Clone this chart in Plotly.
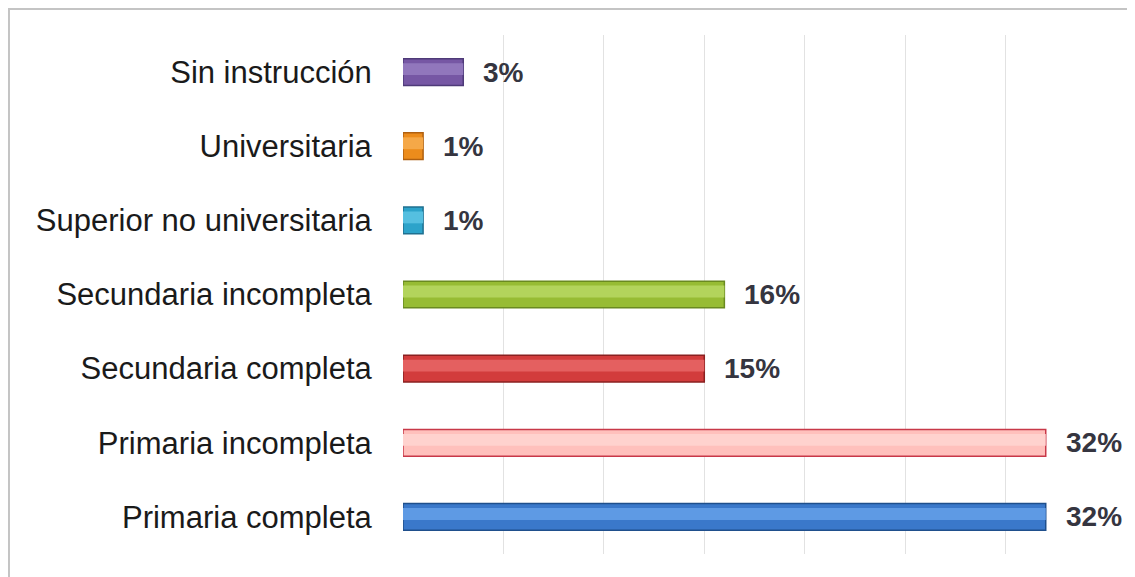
import plotly.graph_objects as go

categories = ["Primaria completa", "Primaria incompleta", "Secundaria completa",
              "Secundaria incompleta", "Superior no universitaria", "Universitaria",
              "Sin instrucción"]
values = [32, 32, 15, 16, 1, 1, 3]
labels = ["32%", "32%", "15%", "16%", "1%", "1%", "3%"]

fill_colors = ["#3A78CA", "#FFC0BC", "#D23C3C", "#97BC34", "#2CA3CA", "#EC8C1C", "#7657A4"]
line_colors = ["#1F4F8C", "#C83848", "#8A2020", "#6A8A20", "#1F7090", "#B06010", "#4E3A78"]
hi_colors = ["#5E9AE4", "#FFD2CE", "#E46060", "#B3D45C", "#55BFE0", "#F5A848", "#9177BC"]

fig = go.Figure()
fig.add_trace(go.Bar(
    y=categories, x=values, orientation="h", width=0.36,
    marker=dict(color=fill_colors, line=dict(color=line_colors, width=1.5)),
    hoverinfo="skip", showlegend=False,
))
fig.add_trace(go.Bar(
    y=categories, x=values, orientation="h", width=0.16, offset=-0.04,
    marker=dict(color=hi_colors, line=dict(width=0)),
    hoverinfo="skip", showlegend=False,
))

for c, v, t in zip(categories, values, labels):
    fig.add_annotation(x=v, y=c, text="<b>%s</b>" % t, showarrow=False,
                       xanchor="left", yanchor="middle", xshift=18,
                       font=dict(family="Arial, Liberation Sans", size=28, color="#353540"))

fig.add_shape(type="rect", xref="paper", yref="paper",
              x0=-0.5605, x1=1.037, y0=-0.08, y1=1.050,
              line=dict(color="#C4C4C4", width=2), fillcolor="rgba(0,0,0,0)")

fig.update_layout(
    width=1135, height=577,
    margin=dict(l=395, r=37, t=27, b=31),
    paper_bgcolor="white", plot_bgcolor="white",
    barmode="overlay",
    font=dict(family="Arial, Liberation Sans", size=31, color="#1A1A1A"),
    xaxis=dict(range=[0, 35], dtick=5, showgrid=True, gridcolor="#E2E2E2", gridwidth=1,
               showticklabels=False, zeroline=False, showline=False, fixedrange=True),
    yaxis=dict(categoryorder="array", categoryarray=categories, showgrid=False,
               ticks="outside", ticklen=24, tickcolor="rgba(0,0,0,0)",
               tickfont=dict(family="Arial, Liberation Sans", size=31, color="#1A1A1A"),
               showline=False, zeroline=False, fixedrange=True),
)

fig.write_html("out.html")
